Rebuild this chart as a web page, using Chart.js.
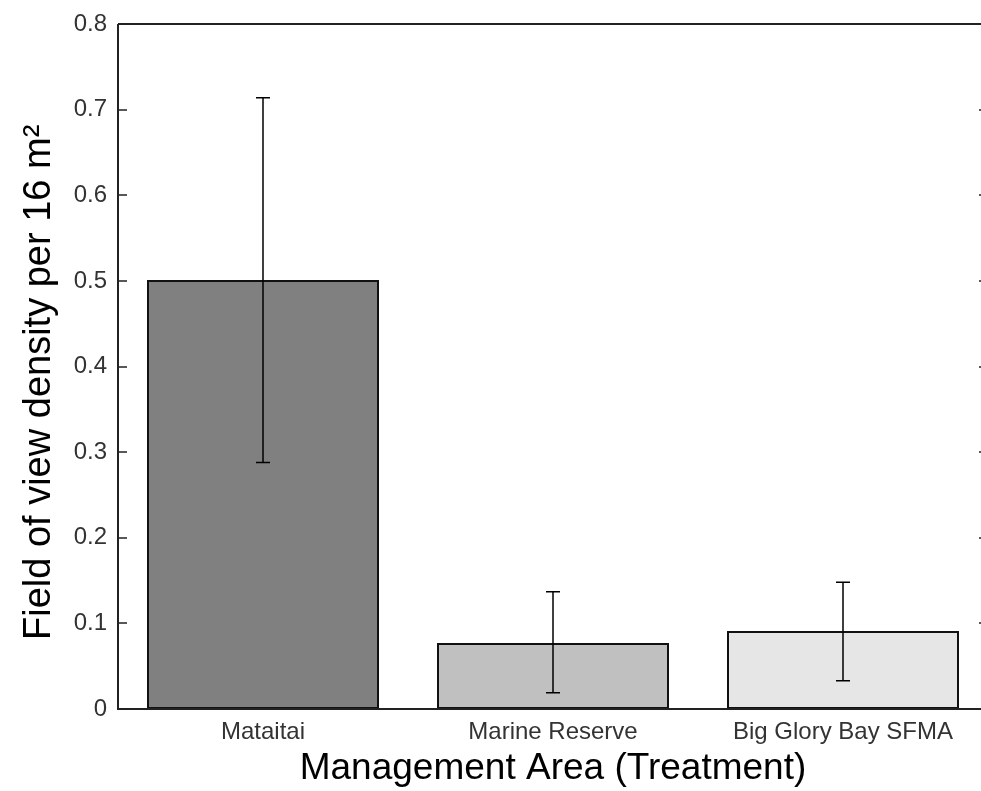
<!DOCTYPE html>
<html lang="en">
<head>
    <meta charset="UTF-8">
    <title>Field of view density by management area</title>
    <script src="https://cdn.jsdelivr.net/npm/chart.js"></script>
    <style>
        html, body { margin: 0; padding: 0; background: #fff; overflow: hidden; }
    </style>
</head>
<body>
    <canvas id="densityChart" width="990" height="791"></canvas>

    <script>
        // Dati
        const areas = ['Mataitai', 'Marine Reserve', 'Big Glory Bay SFMA'];
        const density = [0.501, 0.077, 0.091];
        const errLow = [0.288, 0.019, 0.033];
        const errHigh = [0.714, 0.137, 0.148];
        const barColors = ['#808080', '#c0c0c0', '#e6e6e6'];
        const yTicks = ['0', '0.1', '0.2', '0.3', '0.4', '0.5', '0.6', '0.7', '0.8'];

        // Box degli assi + tacche verso l'interno (stile MATLAB)
        const boxPlugin = {
            id: 'box',
            afterDatasetsDraw(chart) {
                const { ctx, chartArea: a, scales } = chart;
                ctx.save();
                ctx.strokeStyle = '#222';
                ctx.lineWidth = 2;
                ctx.beginPath();
                ctx.moveTo(a.left, a.top);
                ctx.lineTo(a.right, a.top);
                ctx.moveTo(a.left, a.top);
                ctx.lineTo(a.left, a.bottom);
                ctx.lineTo(a.right, a.bottom);
                ctx.lineTo(a.right, a.top);
                ctx.stroke();
                ctx.lineWidth = 1.5;
                ctx.beginPath();
                scales.y.ticks.forEach(t => {
                    const y = Math.round(scales.y.getPixelForValue(t.value));
                    ctx.moveTo(a.left, y);
                    ctx.lineTo(a.left + 9, y);
                    ctx.moveTo(a.right, y);
                    ctx.lineTo(a.right - 9, y);
                });
                ctx.stroke();
                ctx.restore();
            }
        };

        // Barre di errore
        const errorBars = {
            id: 'errorBars',
            afterDatasetsDraw(chart) {
                const { ctx, scales } = chart;
                ctx.save();
                ctx.strokeStyle = '#000';
                ctx.lineWidth = 1.5;
                areas.forEach((a, i) => {
                    const x = Math.round(scales.x.getPixelForValue(i));
                    const yl = scales.y.getPixelForValue(errLow[i]);
                    const yh = scales.y.getPixelForValue(errHigh[i]);
                    ctx.beginPath();
                    ctx.moveTo(x, yl);
                    ctx.lineTo(x, yh);
                    ctx.moveTo(x - 7, yl);
                    ctx.lineTo(x + 7, yl);
                    ctx.moveTo(x - 7, yh);
                    ctx.lineTo(x + 7, yh);
                    ctx.stroke();
                });
                ctx.restore();
            }
        };

        const ctx = document.getElementById('densityChart').getContext('2d');
        new Chart(ctx, {
            type: 'bar',
            data: {
                labels: areas,
                datasets: [{
                    data: density,
                    backgroundColor: barColors,
                    borderColor: '#111',
                    borderWidth: 2,
                    borderSkipped: false,
                    categoryPercentage: 1,
                    barPercentage: 0.8
                }]
            },
            options: {
                responsive: false,
                animation: false,
                layout: { padding: { top: 24, right: 2, left: 0, bottom: 0 } },
                plugins: {
                    legend: { display: false },
                    tooltip: { enabled: false }
                },
                scales: {
                    x: {
                        grid: { display: false },
                        border: { display: false },
                        afterFit(scale) { scale.height = 82; },
                        ticks: {
                            color: '#333',
                            padding: 1,
                            font: { family: 'Liberation Sans', size: 24 }
                        },
                        title: {
                            display: true,
                            text: 'Management Area (Treatment)',
                            color: '#000',
                            padding: { top: 0, bottom: 0 },
                            font: { family: 'Liberation Sans', size: 37 }
                        }
                    },
                    y: {
                        min: 0,
                        max: 0.8,
                        grid: { display: false },
                        border: { display: false },
                        afterFit(scale) { scale.width = 118; },
                        ticks: {
                            stepSize: 0.1,
                            color: '#333',
                            padding: 3,
                            font: { family: 'Liberation Sans', size: 24 },
                            callback: (v, i) => yTicks[i]
                        },
                        title: {
                            display: true,
                            text: 'Field of view density per 16 m\u00b2   ',
                            color: '#000',
                            padding: { top: 17, bottom: 0 },
                            font: { family: 'Liberation Sans', size: 38 }
                        }
                    }
                }
            },
            plugins: [boxPlugin, errorBars]
        });
    </script>
</body>
</html>
